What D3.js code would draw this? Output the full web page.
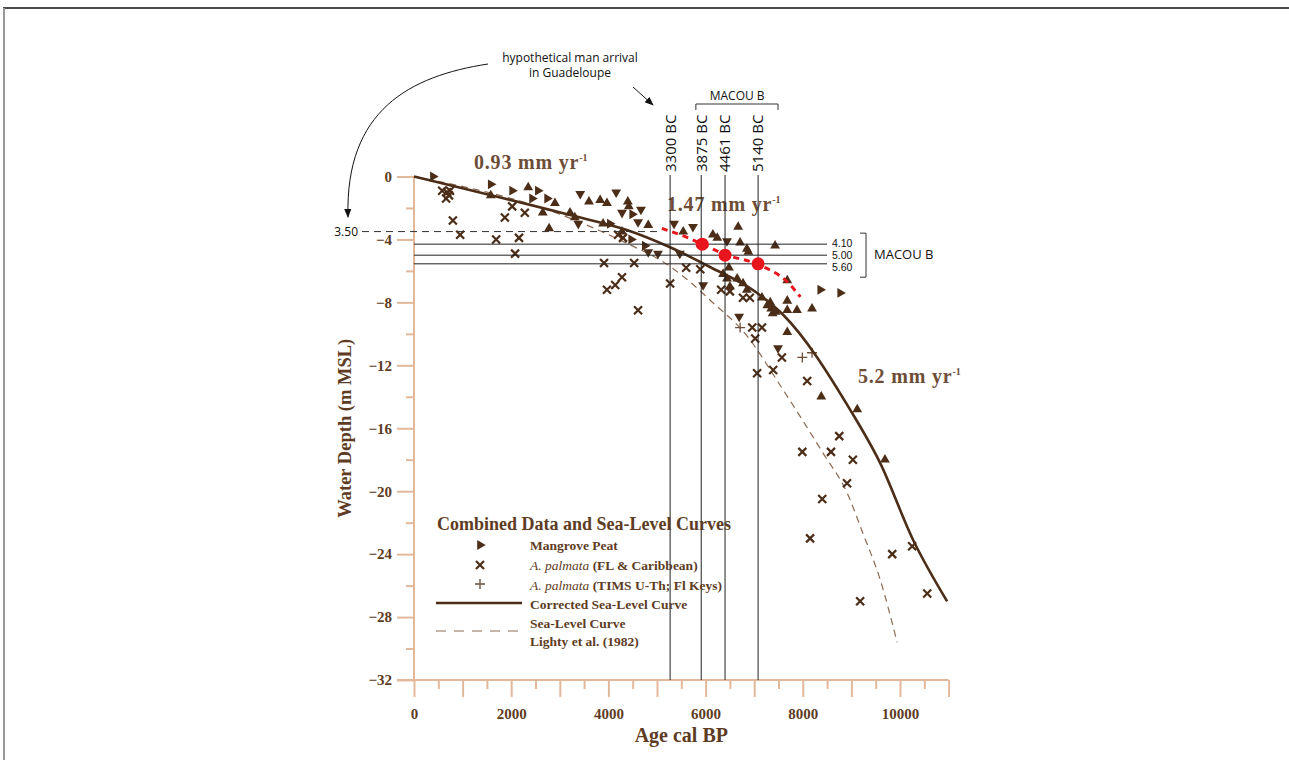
<!DOCTYPE html>
<html>
<head>
<meta charset="utf-8">
<script src="https://cdn.jsdelivr.net/npm/d3@7"></script>
<style>
  body { margin: 0; background: #fff; }
</style>
</head>
<body>
<script>
// tick labels
const xTickLabels = [0, 2000, 4000, 6000, 8000, 10000];
const yTickLabels = [0, -4, -8, -12, -16, -20, -24, -28, -32];

// [age cal BP, level m]
const peatRight = [[390,0.0],[1580,-0.5],[2020,-0.9],[2430,-1.4],[2550,-0.9],[2740,-1.4],[4030,-3.0],
  [4490,-2.4],[4470,-4.0],[4750,-4.4],[8360,-7.2],[8770,-7.4]];
const peatUp = [[1580,-1.2],[2350,-0.7],[2650,-2.3],[2900,-1.7],[2780,-3.3],[3600,-1.6],[3830,-1.5],
  [3970,-1.7],[4400,-1.6],[4420,-1.9],[4820,-3.1],[3210,-2.3],[3310,-2.6],[3890,-3.0],[4280,-3.5],
  [5540,-3.5],[6150,-3.7],[6240,-3.9],[6710,-4.2],[6670,-3.2],[7430,-4.4],[6850,-4.6],[6880,-4.8],
  [6480,-5.8],[6360,-6.2],[6440,-6.5],[6650,-6.5],[6770,-6.8],[6500,-7.0],[6850,-7.2],[7160,-7.7],
  [7330,-8.0],[7270,-8.2],[7350,-8.4],[7440,-8.6],[7380,-8.7],[7680,-7.9],[7680,-8.5],[7880,-8.5],
  [8190,-8.4],[7680,-6.6],[7680,-9.9],[8380,-14.0],[9120,-14.8],[9690,-18.0]];
const peatDown = [[3420,-1.1],[4160,-1.0],[4280,-2.3],[4670,-2.1],[4610,-2.9],[3380,-3.0],[4820,-4.8],
  [5020,-4.9],[5350,-3.0],[5740,-3.2],[5470,-4.9],[5950,-6.9],[6440,-4.1],[6690,-8.9],[7490,-10.9]];
const palmataX = [[580,-0.9],[680,-1.0],[720,-1.2],[660,-1.4],[740,-0.9],[800,-2.8],[950,-3.7],
  [2020,-1.9],[1870,-2.6],[2280,-2.3],[1690,-4.0],[2160,-3.9],[2080,-4.9],[4200,-3.7],[4300,-3.9],
  [3910,-5.5],[4530,-5.5],[4280,-6.4],[4140,-6.9],[3970,-7.2],[4610,-8.5],[5270,-6.8],[5600,-5.8],
  [5890,-5.9],[6320,-7.2],[6500,-7.3],[6770,-7.7],[6910,-7.7],[6960,-9.6],[7160,-9.6],[7020,-10.3],
  [7570,-11.5],[7060,-12.5],[7390,-12.3],[8090,-13.0],[8750,-16.5],[7990,-17.5],[8580,-17.5],
  [9030,-18.0],[8910,-19.5],[8400,-20.5],[8150,-23.0],[9840,-24.0],[10250,-23.5],[10560,-26.5],[9180,-27.0]];
const palmataTims = [[6710,-9.6],[7990,-11.5],[8190,-11.2]];

const correctedCurve = [[0,0],[3210,-2.45],[4380,-3.4],[5270,-4.5],[6090,-5.75],[7060,-7.4],
  [7600,-8.8],[8970,-14.8],[9590,-18.2],[10270,-23.1],[10970,-27.0]];
const lightyCurve = [[0,0],[3000,-2.4],[4450,-4.35],[5060,-5.3],[5680,-6.7],[6090,-7.85],[6870,-10.2],
  [7530,-13.25],[8420,-17.6],[8910,-20.1],[9240,-22.7],[9590,-25.6],[9940,-29.6]];
const redCurve = [[5100,-3.3],[5640,-3.9],[5930,-4.3],[6400,-4.95],[7080,-5.6],[7680,-6.7],[7950,-7.65]];
const macouDots = [[5930,-4.3],[6400,-5.0],[7080,-5.55]];

const bcAges = [5270, 5910, 6400, 7080];
const bcLabels = ["3300 BC", "3875 BC", "4461 BC", "5140 BC"];
const macouLevels = [-4.3, -5.0, -5.55];
const macouLabels = ["4.10", "5.00", "5.60"];
const arrivalLevel = -3.5;
const arrivalLabel = "3.50";
const rateTexts = ["0.93 mm yr", "1.47 mm yr", "5.2 mm yr"];

const W = 1289, H = 760;
const brown = "#4b2d18", textBrown = "#5e3c24", axisTan = "#e2b89a";
const serif = "'Liberation Serif', 'Times New Roman', serif";
const sans = "'Open Sans', 'Noto Sans', sans-serif";

const x = d3.scaleLinear().domain([0, 11000]).range([414, 948.6]);
const y = d3.scaleLinear().domain([0, -32]).range([176.5, 680]);

const svg = d3.select("body").append("svg")
  .attr("width", W).attr("height", H);

// frame
svg.append("line").attr("x1", 3).attr("x2", W).attr("y1", 8).attr("y2", 8)
  .attr("stroke", "#111").attr("stroke-width", 1.5);
svg.append("line").attr("x1", 4).attr("x2", 4).attr("y1", 8).attr("y2", H)
  .attr("stroke", "#999").attr("stroke-width", 2);

// y axis
const yAxis = svg.append("g").attr("transform", `translate(${x(0)},0)`)
  .call(d3.axisLeft(y).tickValues(yTickLabels).tickSize(17).tickFormat(d3.format("d")));
svg.append("g").attr("transform", `translate(${x(0)},0)`)
  .call(d3.axisLeft(y).tickValues(d3.range(-2, -32, -4)).tickSize(8).tickFormat(""))
  .call(g => g.select(".domain").remove());

// x axis
const xAxis = svg.append("g").attr("transform", `translate(0,${y(-32)})`)
  .call(d3.axisBottom(x).tickValues(d3.range(0, 11001, 1000)).tickSize(17)
    .tickFormat(d => xTickLabels.includes(d) ? d : ""));
svg.append("g").attr("transform", `translate(0,${y(-32)})`)
  .call(d3.axisBottom(x).tickValues(d3.range(500, 11000, 1000)).tickSize(9).tickFormat(""))
  .call(g => g.select(".domain").remove());

svg.selectAll(".domain, .tick line").attr("stroke", axisTan).attr("stroke-width", 2);
yAxis.select(".domain").attr("d", `M0,${y(0)}V${y(-32)}`);
xAxis.select(".domain").attr("d", `M${x(0) - 17},0H${x(11000)}`);
yAxis.attr("font-family", null).attr("font-size", null);
xAxis.attr("font-family", null).attr("font-size", null);
svg.selectAll(".tick text").style("fill", textBrown).style("font-family", serif)
  .style("font-weight", "bold").style("font-size", "15px");
yAxis.selectAll(".tick text").attr("x", -22);
xAxis.selectAll(".tick text").attr("y", 28);

// axis titles
svg.append("text").attr("x", x(5500)).attr("y", 742).attr("text-anchor", "middle")
  .attr("font-family", serif).attr("font-weight", "bold").attr("font-size", 20)
  .attr("fill", textBrown).text("Age cal BP");
svg.append("text").attr("transform", `translate(351,${y(-16)}) rotate(-90)`)
  .attr("text-anchor", "middle")
  .attr("font-family", serif).attr("font-weight", "bold").attr("font-size", 18.5)
  .attr("fill", textBrown).text("Water Depth (m MSL)");

// rate labels
const ratePos = [[474, 169], [667, 211], [858, 383]];
rateTexts.forEach((t, i) => {
  const tx = svg.append("text").attr("x", ratePos[i][0]).attr("y", ratePos[i][1])
    .attr("font-family", serif).attr("font-weight", "bold").attr("font-size", 20)
    .attr("fill", "#6e4d37").attr("letter-spacing", 0.8);
  tx.append("tspan").text(t);
  tx.append("tspan").attr("dy", -8).attr("font-size", 10).attr("letter-spacing", 0).text("-1");
});

// curves
const line = d3.line().x(d => x(d[0])).y(d => y(d[1])).curve(d3.curveMonotoneX);
svg.append("path").datum(lightyCurve).attr("d", line).attr("fill", "none")
  .attr("stroke", "#8c6a52").attr("stroke-width", 1.2).attr("stroke-dasharray", "7,5");

// markers
const tri = d3.symbol().type(d3.symbolTriangle).size(42);
function triangles(data, angle) {
  svg.append("g").selectAll("path").data(data).join("path")
    .attr("d", tri)
    .attr("transform", d => `translate(${x(d[0])},${y(d[1])}) rotate(${angle})`)
    .attr("fill", brown);
}
triangles(peatUp, 0);
triangles(peatDown, 180);
triangles(peatRight, 90);

svg.append("g").selectAll("path").data(palmataX).join("path")
  .attr("d", "M-4,-4L4,4M-4,4L4,-4")
  .attr("transform", d => `translate(${x(d[0])},${y(d[1])})`)
  .attr("stroke", brown).attr("stroke-width", 2.2).attr("fill", "none");
svg.append("g").selectAll("path").data(palmataTims).join("path")
  .attr("d", "M-5,0H5M0,-5V5")
  .attr("transform", d => `translate(${x(d[0])},${y(d[1])})`)
  .attr("stroke", "#6e4d37").attr("stroke-width", 1.3);

svg.append("path").datum(correctedCurve).attr("d", line).attr("fill", "none")
  .attr("stroke", brown).attr("stroke-width", 2.6);

// arrival level dashed line
svg.append("line").attr("x1", 362).attr("x2", x(5100)).attr("y1", y(arrivalLevel)).attr("y2", y(arrivalLevel))
  .attr("stroke", "#333").attr("stroke-width", 1).attr("stroke-dasharray", "7,5");
svg.append("text").attr("x", 358).attr("y", y(arrivalLevel)).attr("dy", "0.35em")
  .attr("text-anchor", "end").attr("font-family", sans).attr("font-size", 12).attr("fill", "#111")
  .text(arrivalLabel);

// MACOU B horizontal lines
const lineEnd = 827;
svg.append("g").selectAll("line").data(macouLevels).join("line")
  .attr("x1", x(0)).attr("x2", lineEnd).attr("y1", d => y(d)).attr("y2", d => y(d))
  .attr("stroke", "#222").attr("stroke-width", 1);
svg.append("g").selectAll("text").data(macouLabels).join("text")
  .attr("x", lineEnd + 5).attr("y", (d, i) => y(macouLevels[0]) - 0.5 + i * 12).attr("dy", "0.35em")
  .attr("font-family", "'Liberation Sans', Arial, sans-serif").attr("font-size", 10.5)
  .attr("fill", "#111").text(d => d);
svg.append("path")
  .attr("d", `M860,${y(-3.6)}H866V${y(-6.4)}H860`)
  .attr("fill", "none").attr("stroke", "#333").attr("stroke-width", 1);
svg.append("text").attr("x", 874).attr("y", y(-4.95)).attr("dy", "0.35em")
  .attr("font-family", sans).attr("font-size", 13).attr("fill", "#111").text("MACOU B");

// vertical BC lines
svg.append("g").selectAll("line").data(bcAges).join("line")
  .attr("x1", d => x(d)).attr("x2", d => x(d)).attr("y1", 175).attr("y2", y(-32))
  .attr("stroke", "#222").attr("stroke-width", 1);
svg.append("g").selectAll("text").data(bcLabels).join("text")
  .attr("transform", (d, i) => `translate(${x(bcAges[i])},172) rotate(-90)`)
  .attr("dy", "0.36em")
  .attr("font-family", sans).attr("font-size", 15).attr("fill", "#111").text(d => d);

// top MACOU B bracket
svg.append("path").attr("d", `M${x(5800)},110V104H${x(7490)}V110`)
  .attr("fill", "none").attr("stroke", "#333").attr("stroke-width", 1);
svg.append("text").attr("x", x(6650)).attr("y", 100).attr("text-anchor", "middle")
  .attr("font-family", sans).attr("font-size", 12).attr("fill", "#111").text("MACOU B");

// red curve and dots
svg.append("path").datum(redCurve).attr("d", line).attr("fill", "none")
  .attr("stroke", "#e8161c").attr("stroke-width", 3).attr("stroke-dasharray", "6,5");
svg.append("g").selectAll("circle").data(macouDots).join("circle")
  .attr("cx", d => x(d[0])).attr("cy", d => y(d[1])).attr("r", 6.5).attr("fill", "#e8161c");

// annotation: hypothetical man arrival
const defs = svg.append("defs");
defs.append("marker").attr("id", "arrow").attr("viewBox", "0 0 10 10")
  .attr("refX", 9).attr("refY", 5).attr("markerWidth", 9).attr("markerHeight", 9)
  .attr("orient", "auto-start-reverse")
  .append("path").attr("d", "M0,1L10,5L0,9z").attr("fill", "#111");
svg.append("text").attr("x", 570).attr("y", 62).attr("text-anchor", "middle")
  .attr("font-family", sans).attr("font-size", 12).attr("fill", "#111").text("hypothetical man arrival");
svg.append("text").attr("x", 570).attr("y", 77).attr("text-anchor", "middle")
  .attr("font-family", sans).attr("font-size", 12).attr("fill", "#111").text("in Guadeloupe");
svg.append("line").attr("x1", 633).attr("y1", 87).attr("x2", 653).attr("y2", 105)
  .attr("stroke", "#111").attr("stroke-width", 1).attr("marker-end", "url(#arrow)");
svg.append("path").attr("d", "M488,64C410,76 345,110 348,217")
  .attr("fill", "none").attr("stroke", "#111").attr("stroke-width", 1).attr("marker-end", "url(#arrow)");

// legend
const lg = svg.append("g");
lg.append("text").attr("x", 437).attr("y", 530)
  .attr("font-family", serif).attr("font-weight", "bold").attr("font-size", 18)
  .attr("fill", textBrown).text("Combined Data and Sea-Level Curves");
const itemFont = g => g.attr("font-family", serif).attr("font-weight", "bold")
  .attr("font-size", 13.5).attr("fill", textBrown).attr("dy", "0.35em");
lg.append("path").attr("d", tri).attr("transform", "translate(480,545) rotate(90)").attr("fill", brown);
lg.append("path").attr("d", "M-4,-4L4,4M-4,4L4,-4").attr("transform", "translate(480,565)")
  .attr("stroke", brown).attr("stroke-width", 2.2);
lg.append("path").attr("d", "M-5,0H5M0,-5V5").attr("transform", "translate(480,584)")
  .attr("stroke", "#6e4d37").attr("stroke-width", 1.3);
lg.append("line").attr("x1", 436).attr("x2", 522).attr("y1", 603).attr("y2", 603)
  .attr("stroke", brown).attr("stroke-width", 2.6);
lg.append("line").attr("x1", 436).attr("x2", 522).attr("y1", 631).attr("y2", 631)
  .attr("stroke", "#8c6a52").attr("stroke-width", 1.2).attr("stroke-dasharray", "10,8");
lg.append("text").attr("x", 530).attr("y", 545).call(itemFont).text("Mangrove Peat");
const t2 = lg.append("text").attr("x", 530).attr("y", 565).call(itemFont);
t2.append("tspan").attr("font-style", "italic").attr("font-weight", "normal").text("A. palmata");
t2.append("tspan").text(" (FL & Caribbean)");
const t3 = lg.append("text").attr("x", 530).attr("y", 585).call(itemFont);
t3.append("tspan").attr("font-style", "italic").attr("font-weight", "normal").text("A. palmata");
t3.append("tspan").text(" (TIMS U-Th; Fl Keys)");
lg.append("text").attr("x", 530).attr("y", 604).call(itemFont).text("Corrected Sea-Level Curve");
lg.append("text").attr("x", 530).attr("y", 623).call(itemFont).text("Sea-Level Curve");
lg.append("text").attr("x", 530).attr("y", 641).call(itemFont).text("Lighty et al. (1982)");
</script>
</body>
</html>
